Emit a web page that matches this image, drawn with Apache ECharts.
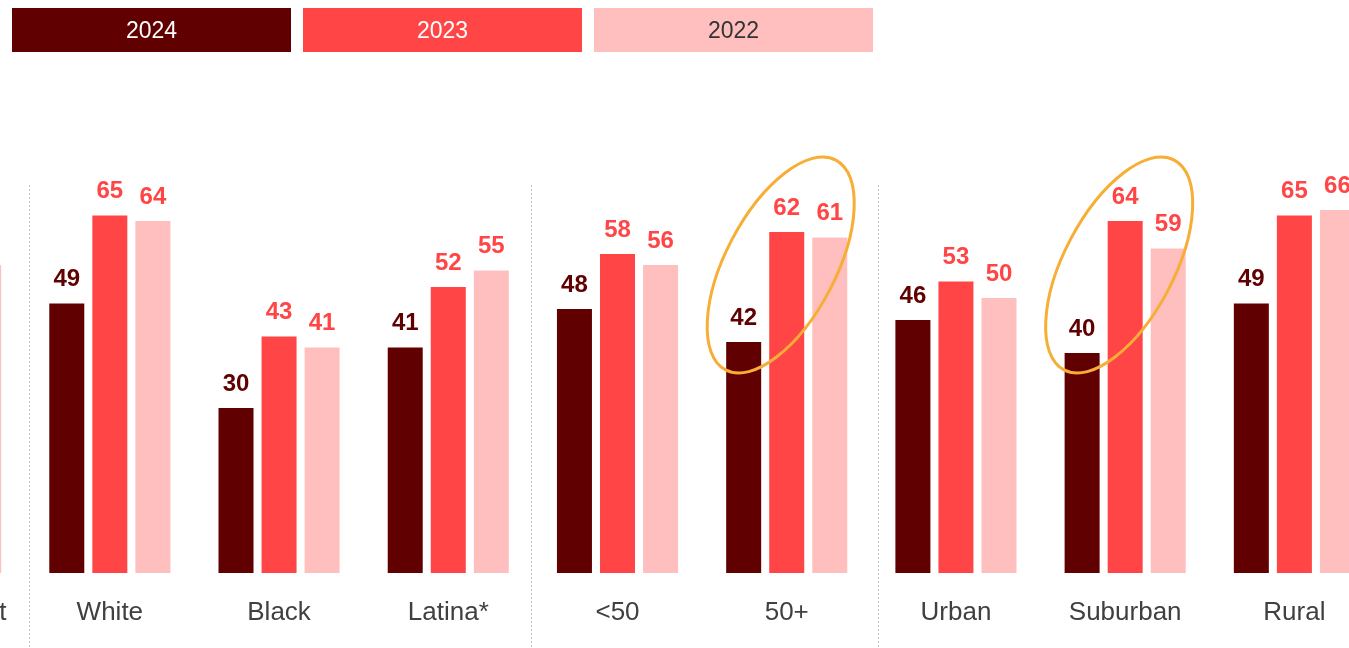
<!DOCTYPE html>
<html>
<head>
<meta charset="utf-8">
<script src="https://cdn.jsdelivr.net/npm/echarts@6/dist/echarts.min.js"></script>
<style>
  html, body { margin: 0; padding: 0; background: #fff; overflow: hidden; width: 1349px; height: 648px; }
  /* the picture is a crop of a wider chart: first and last groups are cut */
  #main { position: absolute; left: -144px; top: 0; width: 1523px; height: 648px; }
</style>
</head>
<body>
<div id="main"></div>
<script>
// data
var categories = ['Total Count', 'White', 'Black', 'Latina*', '<50', '50+', 'Urban', 'Suburban', 'Rural'];
var years = ['2024', '2023', '2022'];
var v2024 = [44, 49, 30, 41, 48, 42, 46, 40, 49];
var v2023 = [58, 65, 43, 52, 58, 62, 53, 64, 65];
var v2022 = [56, 64, 41, 55, 56, 61, 50, 59, 66];
var circled = ['50+', 'Suburban'];

var OFFSET = 144; // how far the chart div sticks out on the left
var font = "'Liberation Sans Narrow', 'Arial Narrow', 'Liberation Sans', sans-serif";
var colors = ['#600000', '#FF4545', '#FFBFBF'];
var labelColors = ['#600000', '#FF4545', '#FF4545'];

var chart = echarts.init(document.getElementById('main'));

var legendRich = {};
years.forEach(function (y, i) {
  legendRich['y' + i] = {
    backgroundColor: colors[i],
    color: i == 2 ? '#333' : '#fff',
    width: 279,
    height: 41,
    lineHeight: 41,
    padding: [3, 0, 0, 0],
    align: 'center',
    fontSize: 23,
    fontFamily: font
  };
});

function makeSeries(name, data, i) {
  return {
    name: name,
    type: 'bar',
    data: data,
    barWidth: 35,
    barGap: '23%',
    itemStyle: { color: colors[i] },
    emphasis: { disabled: true },
    label: {
      show: true,
      position: 'top',
      distance: 12,
      color: labelColors[i],
      fontSize: 24,
      fontWeight: 'bold',
      fontFamily: font
    }
  };
}

var option = {
  animation: false,
  color: colors,
  legend: {
    left: OFFSET + 7,
    top: 8,
    padding: 0,
    itemGap: 7,
    itemWidth: 0,
    itemHeight: 0,
    icon: 'none',
    selectedMode: false,
    data: years,
    formatter: function (name) {
      return '{y' + years.indexOf(name) + '|' + name + '}';
    },
    textStyle: { rich: legendRich }
  },
  grid: { left: 0, right: 0, top: 23, bottom: 75 },
  xAxis: {
    type: 'category',
    data: categories,
    axisLine: { show: false },
    axisTick: { show: false },
    axisLabel: { fontSize: 26, color: '#404040', margin: 27, fontFamily: font, interval: 0 }
  },
  yAxis: { type: 'value', min: 0, max: 100, show: false, splitLine: { show: false } },
  series: [
    makeSeries('2024', v2024, 0),
    makeSeries('2023', v2023, 1),
    makeSeries('2022', v2022, 2)
  ]
};
chart.setOption(option);

// dotted separators between groups + orange ellipses around highlighted groups
var graphics = [];
[29.5, 531.5, 878.5].forEach(function (x) {
  graphics.push({
    type: 'line',
    shape: { x1: x + OFFSET, y1: 185, x2: x + OFFSET, y2: 648 },
    style: { stroke: '#c0c0c0', lineWidth: 1, lineDash: [2, 2] },
    silent: true
  });
});
circled.forEach(function (c) {
  var p = chart.convertToPixel({ xAxisIndex: 0, yAxisIndex: 0 }, [c, 56]);
  graphics.push({
    type: 'ellipse',
    x: p[0] - 6,
    y: p[1],
    rotation: 1.087,
    shape: { cx: 0, cy: 0, rx: 118.5, ry: 55 },
    style: { fill: 'none', stroke: '#F7AE36', lineWidth: 3 },
    z: 100,
    silent: true
  });
});
chart.setOption({ graphic: graphics });
</script>
</body>
</html>
